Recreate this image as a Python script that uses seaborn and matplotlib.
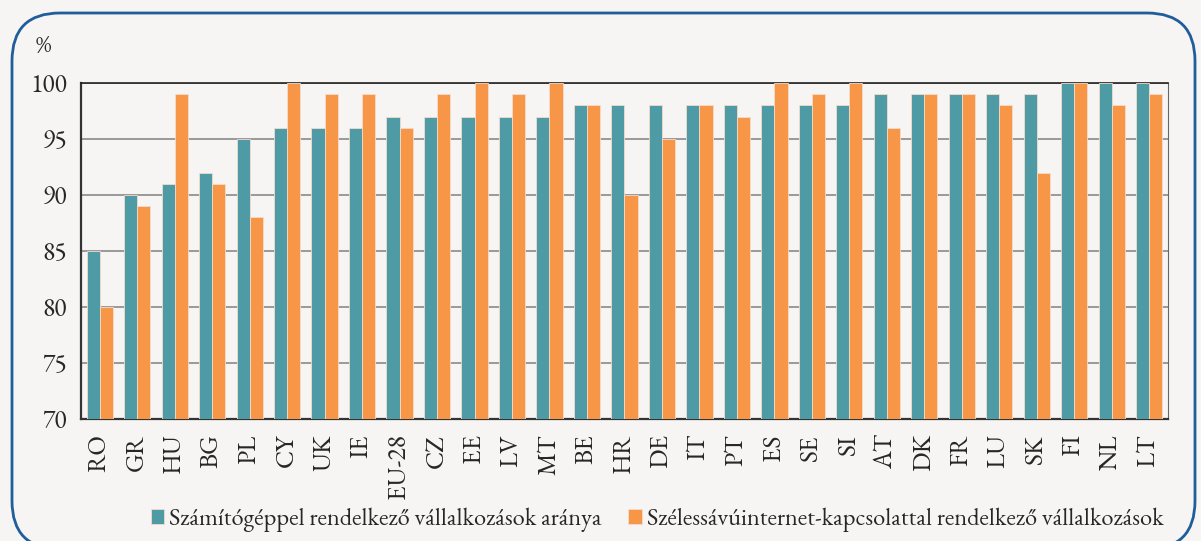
import numpy as np
import pandas as pd
import seaborn as sns
import matplotlib.pyplot as plt
from matplotlib.patches import FancyBboxPatch
from matplotlib.ticker import FixedLocator

countries = ["RO", "GR", "HU", "BG", "PL", "CY", "UK", "IE", "EU-28", "CZ",
             "EE", "LV", "MT", "BE", "HR", "DE", "IT", "PT", "ES", "SE",
             "SI", "AT", "DK", "FR", "LU", "SK", "FI", "NL", "LT"]
computer = [85, 90, 91, 92, 95, 96, 96, 96, 97, 97,
            97, 97, 97, 98, 98, 98, 98, 98, 98, 98,
            98, 99, 99, 99, 99, 99, 100, 100, 100]
broadband = [80, 89, 99, 91, 88, 100, 99, 99, 96, 99,
             100, 99, 100, 98, 90, 95, 98, 97, 100, 99,
             100, 96, 99, 99, 98, 92, 100, 98, 99]
series_names = ["Számítógéppel rendelkező vállalkozások aránya",
                "Szélessávúinternet-kapcsolattal rendelkező vállalkozások"]

df = pd.DataFrame({
    "country": countries * 2,
    "value": computer + broadband,
    "series": [series_names[0]] * len(countries) + [series_names[1]] * len(countries),
})

bg = "#f6f5f3"
teal = "#4f9ba5"
orange = "#f79646"

sns.set_style("white")
plt.rcParams["font.family"] = ["EB Garamond", "Liberation Serif", "DejaVu Serif"]
plt.rcParams["font.size"] = 17

fig = plt.figure(figsize=(12.01, 5.41), dpi=100, facecolor=bg)
ax = fig.add_axes([0.0674, 0.2255, 0.9051, 0.6211])
ax.set_facecolor(bg)

sns.barplot(data=df, x="country", y="value", hue="series", hue_order=series_names,
            palette=[teal, orange], saturation=1, width=0.7, gap=0,
            edgecolor="#f3dccb", linewidth=0.6, ax=ax, zorder=3)

ax.set_ylim(70, 100)
ax.set_xlim(-0.5, len(countries) - 0.5)
ax.set_yticks(range(70, 101, 5))
ax.yaxis.grid(True, color="#8a8a8a", linewidth=1.2, zorder=0)
ax.set_axisbelow(True)
ax.set_xlabel("")
ax.set_ylabel("")

ax.tick_params(axis="x", which="major", length=0, labelrotation=90, pad=11, labelsize=18.5)
ax.xaxis.set_minor_locator(FixedLocator(np.arange(-0.5, len(countries), 1)))
ax.tick_params(axis="x", which="minor", length=6, width=1.2, color="#333333", direction="out")
ax.tick_params(axis="y", length=5, width=1.2, color="#333333", direction="out", labelsize=18.5, pad=5)

for side in ["left", "bottom"]:
    ax.spines[side].set_color("#333333")
    ax.spines[side].set_linewidth(1.6)
ax.spines["top"].set_color("#222222")
ax.spines["top"].set_linewidth(1.2)
ax.spines["right"].set_color("#666666")
ax.spines["right"].set_linewidth(0.8)

fig.text(43 / 1201, 1 - 47 / 541, "%", ha="center", va="center", fontsize=17)

handles, labels = ax.get_legend_handles_labels()
ax.legend(handles, labels, loc="center", bbox_to_anchor=(0.530, -0.30), ncol=2,
          frameon=False, fontsize=17.5, handlelength=0.55, handleheight=0.55,
          handletextpad=0.2, columnspacing=1.1)

border = FancyBboxPatch((12 / 1201, -8 / 541), 1183 / 1201, 536 / 541,
                        boxstyle="round,pad=0,rounding_size=0.04",
                        transform=fig.transFigure, facecolor="none",
                        edgecolor="#1f5d9b", linewidth=2, mutation_aspect=1201 / 541)
fig.patches.append(border)

fig.savefig("out.png", dpi=100, facecolor=bg)
